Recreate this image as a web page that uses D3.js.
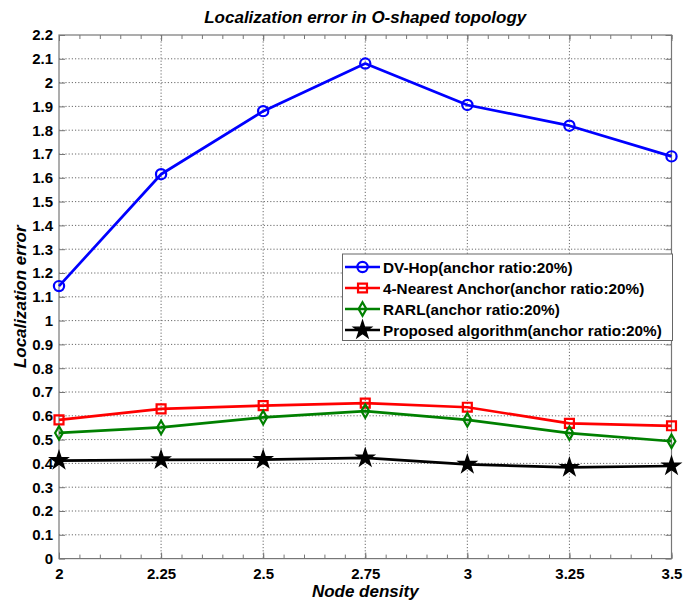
<!DOCTYPE html>
<html>
<head>
<meta charset="utf-8">
<script src="https://cdn.jsdelivr.net/npm/d3@7"></script>
<style>
  html, body { margin: 0; padding: 0; background: #fff; }
  svg { display: block; font-family: "Liberation Sans", Arial, sans-serif; }
</style>
</head>
<body>
<svg id="chart" width="684" height="605"></svg>
<script>
// Node density values on the x axis
const densities = [2, 2.25, 2.5, 2.75, 3, 3.25, 3.5];

// Localization error per algorithm
const dvHop      = [1.145, 1.615, 1.880, 2.080, 1.906, 1.819, 1.690];
const nearest4   = [0.583, 0.629, 0.643, 0.653, 0.636, 0.568, 0.558];
const rarl       = [0.528, 0.551, 0.593, 0.620, 0.583, 0.527, 0.493];
const proposed   = [0.412, 0.415, 0.416, 0.423, 0.396, 0.383, 0.389];

const seriesNames = [
  "DV-Hop(anchor ratio:20%)",
  "4-Nearest Anchor(anchor ratio:20%)",
  "RARL(anchor ratio:20%)",
  "Proposed algorithm(anchor ratio:20%)"
];

const xTicks = [2, 2.25, 2.5, 2.75, 3, 3.25, 3.5];
const yTicks = [0, 0.1, 0.2, 0.3, 0.4, 0.5, 0.6, 0.7, 0.8, 0.9, 1, 1.1, 1.2, 1.3, 1.4, 1.5, 1.6, 1.7, 1.8, 1.9, 2, 2.1, 2.2];

const series = [
  { name: seriesNames[0], values: dvHop,    color: "#0000ff", marker: "circle" },
  { name: seriesNames[1], values: nearest4, color: "#ff0000", marker: "square" },
  { name: seriesNames[2], values: rarl,     color: "#008000", marker: "diamond" },
  { name: seriesNames[3], values: proposed, color: "#000000", marker: "star" }
];

const svg = d3.select("#chart");
const plotL = 59, plotR = 671.5, plotT = 35, plotB = 558.6;

const x = d3.scaleLinear().domain([2, 3.5]).range([plotL, plotR]);
const y = d3.scaleLinear().domain([0, 2.2]).range([plotB, plotT]);

// Plot background
svg.append("rect").attr("x", plotL).attr("y", plotT)
  .attr("width", plotR - plotL).attr("height", plotB - plotT)
  .attr("fill", "#fff");

// Dotted grid
const grid = svg.append("g").attr("stroke", "#444").attr("stroke-width", 0.8)
  .attr("stroke-dasharray", "1.2,2");
grid.selectAll(".gx").data(xTicks.slice(1, -1)).join("line")
  .attr("x1", d => x(d)).attr("x2", d => x(d))
  .attr("y1", plotT).attr("y2", plotB);
grid.selectAll(".gy").data(yTicks.slice(1, -1)).join("line")
  .attr("x1", plotL).attr("x2", plotR)
  .attr("y1", d => y(d)).attr("y2", d => y(d));

// Axes (ticks pointing inward, box on all four sides)
const axisColor = "#777";
const minorX = d3.range(0, 31).map(i => 2 + i * 0.05);

function styleAxis(g) {
  g.select(".domain").remove();
  g.selectAll(".tick line").attr("stroke", axisColor).attr("stroke-width", 1);
  g.selectAll(".tick text").attr("fill", "#000")
    .style("font-size", "15px").style("font-weight", "bold");
}

svg.append("g").attr("transform", `translate(0,${plotB})`)
  .call(d3.axisBottom(x).tickValues(minorX).tickSize(-4).tickFormat(""))
  .call(styleAxis);
svg.append("g").attr("transform", `translate(0,${plotT})`)
  .call(d3.axisTop(x).tickValues(minorX).tickSize(-4).tickFormat(""))
  .call(styleAxis);

svg.append("g").attr("transform", `translate(0,${plotB})`)
  .call(d3.axisBottom(x).tickValues(xTicks).tickSize(-6).tickPadding(9.5)
    .tickFormat(d => String(d)))
  .call(styleAxis);
svg.append("g").attr("transform", `translate(0,${plotT})`)
  .call(d3.axisTop(x).tickValues(xTicks).tickSize(-6).tickFormat(""))
  .call(styleAxis);

svg.append("g").attr("transform", `translate(${plotL},0)`)
  .call(d3.axisLeft(y).tickValues(yTicks).tickSize(-6).tickPadding(6)
    .tickFormat(d => String(+d.toFixed(1))))
  .call(styleAxis);
svg.append("g").attr("transform", `translate(${plotR},0)`)
  .call(d3.axisRight(y).tickValues(yTicks).tickSize(-6).tickFormat(""))
  .call(styleAxis);

// Frame
svg.append("rect").attr("x", plotL).attr("y", plotT)
  .attr("width", plotR - plotL).attr("height", plotB - plotT)
  .attr("fill", "none").attr("stroke", axisColor).attr("stroke-width", 1.2);

// Marker symbols
const symbols = {
  circle:  { type: d3.symbolCircle,  size: 82, fill: "none", sw: 2.2 },
  square:  { type: d3.symbolSquare,  size: 80, fill: "none", sw: 2.2 },
  diamond: { type: d3.symbolDiamond, size: 52, fill: "none", sw: 2.2 },
  star:    { type: d3.symbolStar,    size: 95, fill: "solid", sw: 1.4 }
};

function drawMarker(g, s, px, py) {
  const sym = symbols[s.marker];
  g.append("path")
    .attr("d", d3.symbol().type(sym.type).size(sym.size)())
    .attr("transform", `translate(${px},${py})`)
    .attr("fill", sym.fill === "solid" ? s.color : "none")
    .attr("stroke", s.color)
    .attr("stroke-width", sym.sw);
}

const line = d3.line().x(d => x(d[0])).y(d => y(d[1]));

series.forEach(s => {
  const pts = densities.map((d, i) => [d, s.values[i]]);
  svg.append("path").datum(pts)
    .attr("d", line)
    .attr("fill", "none")
    .attr("stroke", s.color)
    .attr("stroke-width", 2.7)
    .attr("stroke-linejoin", "round");
  const mg = svg.append("g");
  pts.forEach(p => drawMarker(mg, s, x(p[0]), y(p[1])));
});

// Legend
const lg = svg.append("g");
lg.append("rect").attr("x", 342.5).attr("y", 254)
  .attr("width", 330).attr("height", 86.5)
  .attr("fill", "#fff").attr("stroke", "#666").attr("stroke-width", 1);
series.forEach((s, i) => {
  const cy = 267 + i * 21;
  lg.append("line").attr("x1", 345).attr("x2", 380)
    .attr("y1", cy).attr("y2", cy)
    .attr("stroke", s.color).attr("stroke-width", 2.7);
  drawMarker(lg, s, 362.5, cy);
  lg.append("text").attr("x", 383).attr("y", cy + 5.5)
    .attr("fill", "#000")
    .style("font-size", "15.3px").style("font-weight", "bold")
    .text(s.name);
});

// Titles
const labelFont = g => g.style("font-size", "17px").style("font-weight", "bold")
  .style("font-style", "italic").attr("fill", "#000");

svg.append("text").attr("x", (plotL + plotR) / 2).attr("y", 23)
  .attr("text-anchor", "middle")
  .call(labelFont)
  .text("Localization error in O-shaped topology");

svg.append("text").attr("x", (plotL + plotR) / 2).attr("y", 597)
  .attr("text-anchor", "middle")
  .call(labelFont)
  .text("Node density");

svg.append("text")
  .attr("transform", `translate(26,${(plotT + plotB) / 2}) rotate(-90)`)
  .attr("text-anchor", "middle")
  .call(labelFont)
  .text("Localization error");
</script>
</body>
</html>
